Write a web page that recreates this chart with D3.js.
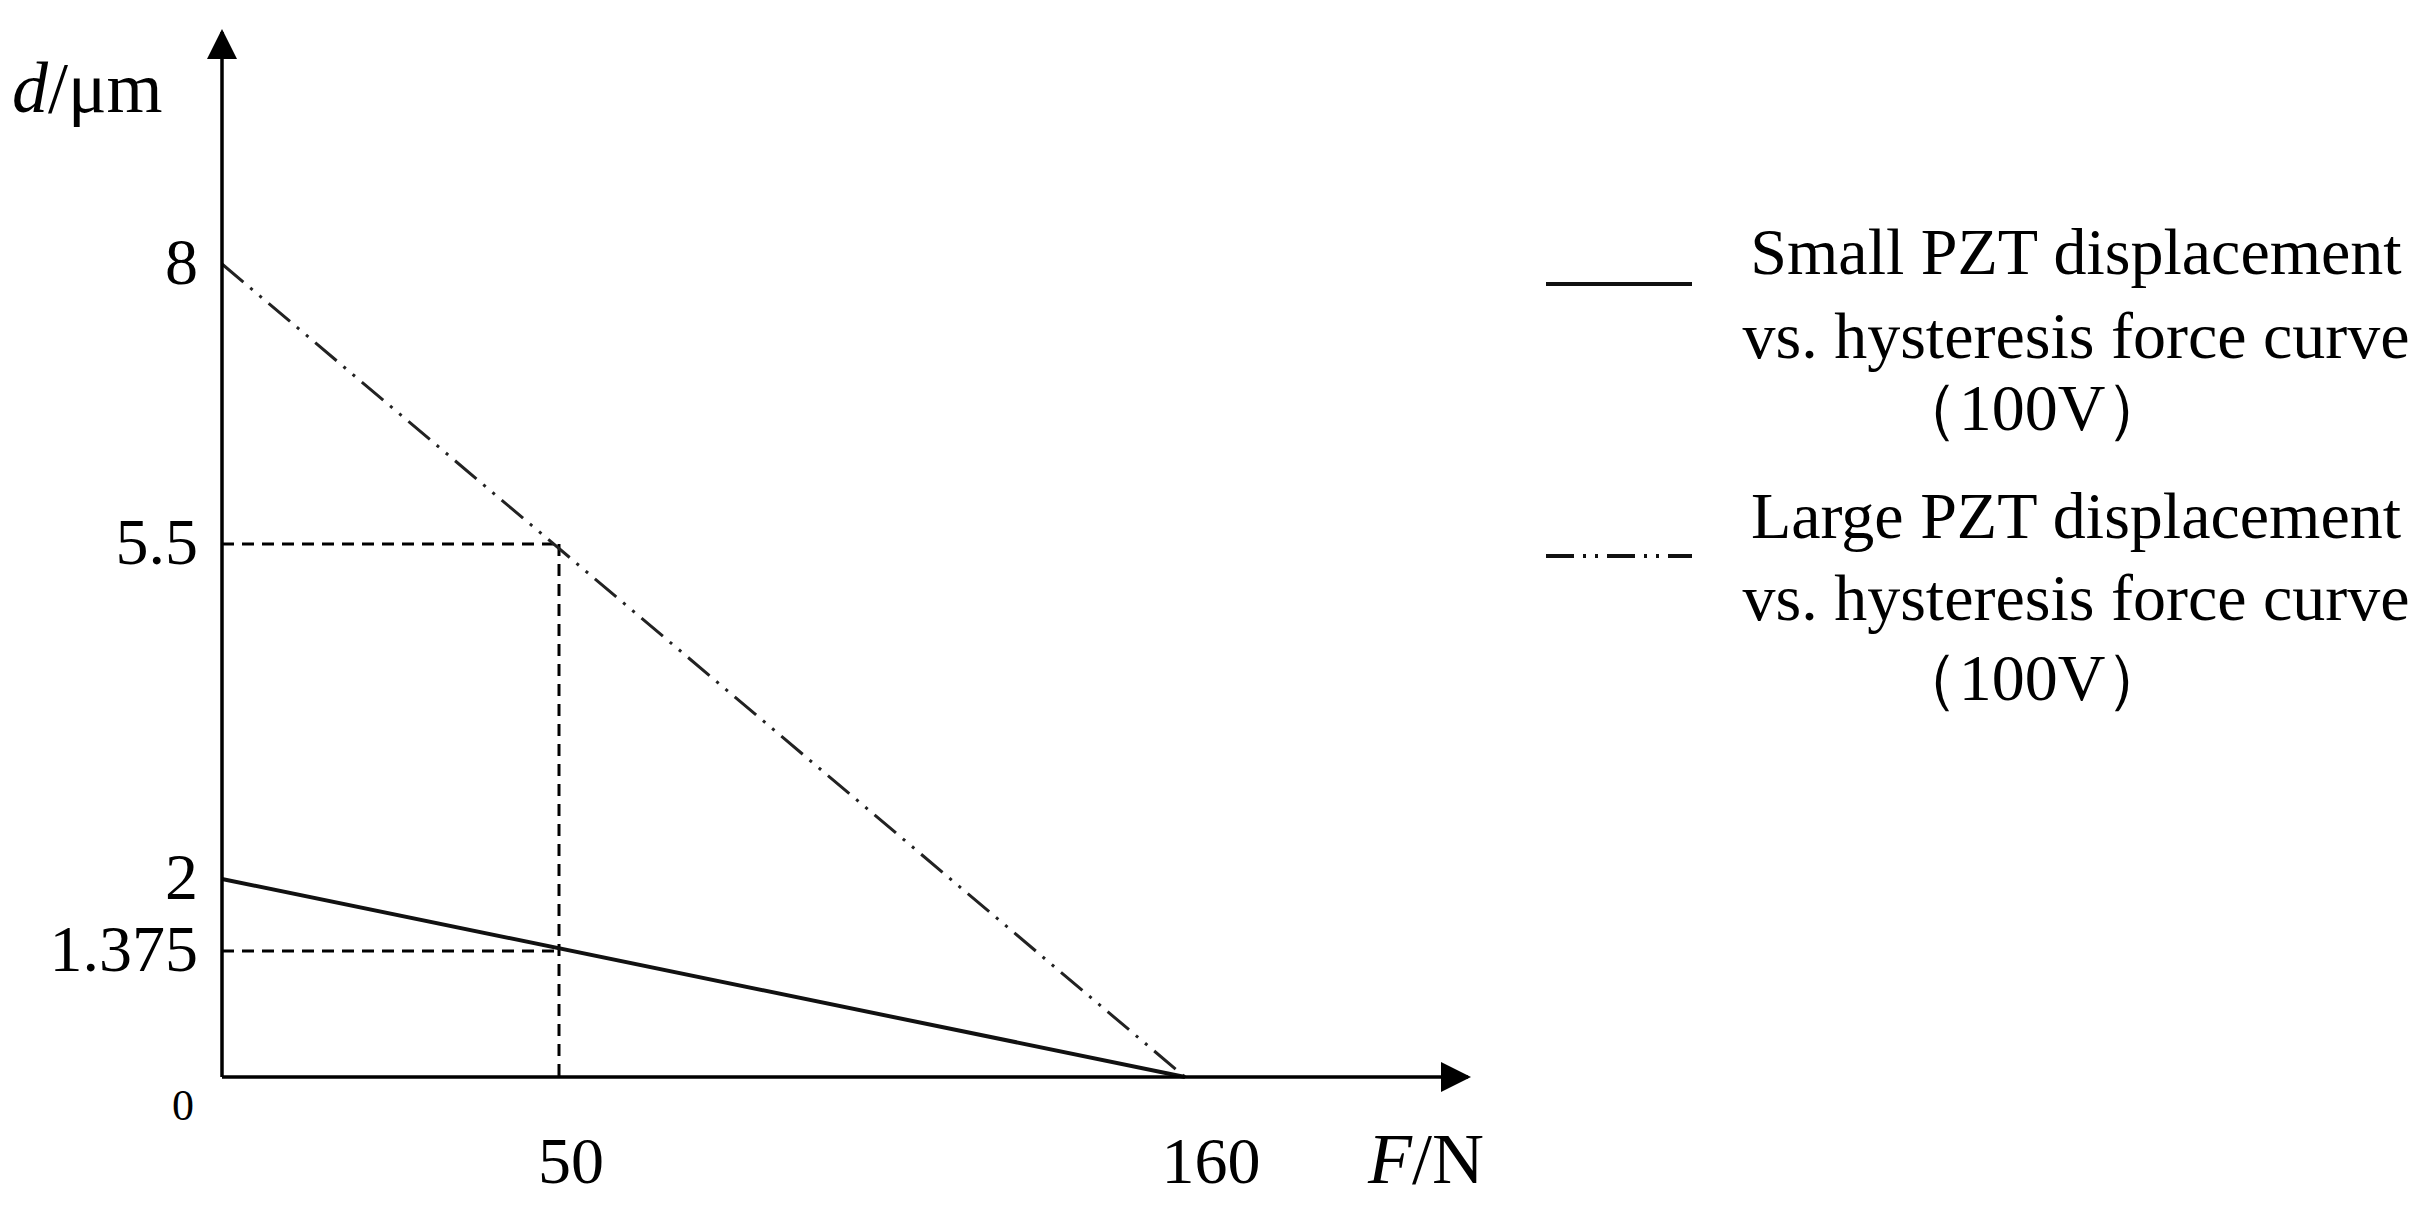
<!DOCTYPE html>
<html><head><meta charset="utf-8">
<script src="https://cdn.jsdelivr.net/npm/d3@7"></script>
<style>body{margin:0;background:#fff}svg text{font-family:"Liberation Serif","Times New Roman",serif;fill:#000}</style>
</head><body><svg id="c" width="2436" height="1221"></svg>
<script>
const forces = [0, 160];
const smallPZT = [2, 0];
const largePZT = [8, 0];
const guideF = 50;
const guideD = [1.375, 5.5];
const yTicks = [0, 1.375, 2, 5.5, 8];
const xTicks = [50, 160];
const legendLabels = [["Small PZT displacement","vs. hysteresis force curve","（100V）"],
                      ["Large PZT displacement","vs. hysteresis force curve","（100V）"]];

const svg = d3.select("#c");
// schematic (non-proportional) axes: piecewise linear scales
const x = d3.scaleLinear().domain([0, 50, 160]).range([222, 559, 1185]);
const y = d3.scaleLinear().domain([0, 1.375, 2, 5.5, 8]).range([1077, 951, 879, 544, 264]);

const g = svg.append("g").attr("stroke","#000").attr("stroke-width",3).attr("stroke-dasharray","12,8").attr("fill","none");
g.append("line").attr("x1",x(guideF)).attr("x2",x(guideF)).attr("y1",y(guideD[1])).attr("y2",y(0));
guideD.forEach(d=>g.append("line").attr("x1",x(0)).attr("x2",x(guideF)).attr("y1",y(d)).attr("y2",y(d)));

const line = d3.line().x(d=>x(d[0])).y(d=>y(d[1]));
svg.append("path").attr("d",line(forces.map((f,i)=>[f,smallPZT[i]]))).attr("stroke","#111").attr("stroke-width",4).attr("fill","none");
svg.append("path").attr("d",line(forces.map((f,i)=>[f,largePZT[i]]))).attr("stroke","#222").attr("stroke-width",3).attr("fill","none").attr("stroke-dasharray","28,9,3,9,3,9");

svg.append("defs").append("marker").attr("id","ar").attr("viewBox","0 0 10 10").attr("refX",9).attr("refY",5)
  .attr("markerWidth",32).attr("markerHeight",30).attr("markerUnits","userSpaceOnUse").attr("orient","auto")
  .append("path").attr("d","M0,0L10,5L0,10Z").attr("fill","#000");
svg.append("line").attr("x1",x(0)).attr("y1",y(0)).attr("x2",1468).attr("y2",y(0)).attr("stroke","#000").attr("stroke-width",3.5).attr("marker-end","url(#ar)");
svg.append("line").attr("x1",x(0)).attr("y1",y(0)).attr("x2",x(0)).attr("y2",32).attr("stroke","#000").attr("stroke-width",3.5).attr("marker-end","url(#ar)");

yTicks.forEach(t=>{
  const zero = t===0;
  svg.append("text").attr("x",zero?194:198).attr("y",zero?1120:y(t)+20).attr("text-anchor","end")
    .attr("font-size",zero?44:66).text(String(t));
});
xTicks.forEach(t=>svg.append("text").attr("x",x(t)+(t===160?26:12)).attr("y",1183).attr("text-anchor","middle").attr("font-size",66).text(t));

svg.append("text").attr("x",1368).attr("y",1183).attr("font-size",72).html('<tspan font-style="italic">F</tspan>/N');
svg.append("text").attr("x",12).attr("y",112).attr("font-size",72).html('<tspan font-style="italic">d</tspan>/μm');

const lg = svg.append("g");
[284,556].forEach((ly,i)=>{
  lg.append("line").attr("x1",1546).attr("x2",1692).attr("y1",ly).attr("y2",ly).attr("stroke","#111").attr("stroke-width",4)
    .attr("stroke-dasharray",i?"28,9,3,9,3,9":null);
});
const base=[[274,358,430],[538,620,700]];
legendLabels.forEach((ls,i)=>ls.forEach((t,j)=>{
  lg.append("text").attr("x",j==2?2032:2076).attr("y",base[i][j]).attr("text-anchor","middle").attr("font-size",66).text(t);
}));
</script></body></html>
